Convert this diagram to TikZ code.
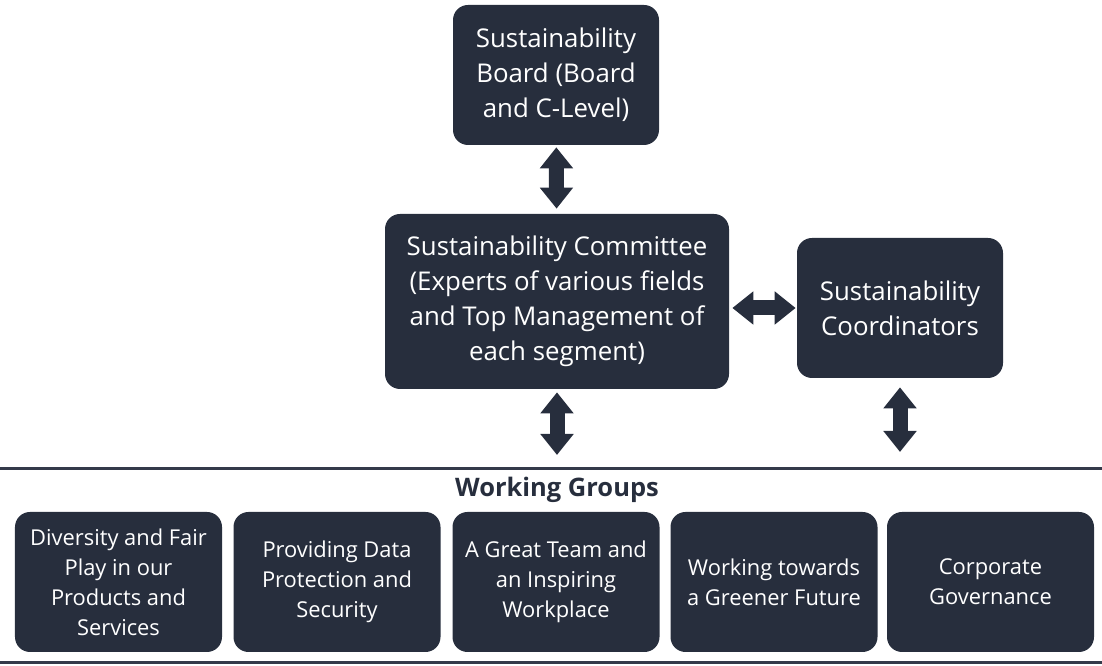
\documentclass[tikz,border=0pt]{standalone}
\usepackage{fontspec}
\setmainfont{Open Sans}
\usepackage{tikz}
\usepackage{xcolor}
\usetikzlibrary{arrows.meta}
\definecolor{boxnavy}{HTML}{272E3D}
\definecolor{rulegray}{HTML}{343A4A}
\tikzset{
	navy box/.style={fill=boxnavy, text=white, rounded corners=.3cm, align=center, inner sep=0pt},
	top box/.style={navy box, font=\fontsize{14.7}{19.9}\selectfont},
	group box/.style={navy box, minimum width=4.14cm, minimum height=2.8cm, font=\fontsize{12.45}{17}\selectfont},
	block arrow/.style={boxnavy, line width=.3cm, {Triangle[width=.64cm,length=.42cm]}-{Triangle[width=.64cm,length=.42cm]}},
	rule line/.style={rulegray, line width=.06cm}
}

\begin{document}
\begin{tikzpicture}
	\useasboundingbox (0,0) rectangle (22.04,13.32);
%
	\node[top box, minimum width=4.12cm, minimum height=2.8cm] (board) at (11.12,11.82) {Sustainability\\Board (Board\\and C-Level)};
	\node[top box, minimum width=6.88cm, minimum height=3.5cm] (comm) at (11.14,7.29) {Sustainability Committee\\(Experts of various fields\\and Top Management of\\each segment)};
	\node[top box, minimum width=4.12cm, minimum height=2.8cm] (coord) at (18.0,7.16) {Sustainability\\Coordinators};
%
	\coordinate (commend) at (11.14,4.22);
	\coordinate (coordend) at (18.0,4.28);
	\draw[block arrow, shorten <=.04cm, shorten >=.1cm] (board) -- (comm);
	\draw[block arrow, shorten <=.06cm, shorten >=.02cm] (comm.east |- coord.west) -- (coord.west);
	\draw[block arrow, shorten <=.06cm] (comm) -- (commend);
	\draw[block arrow, shorten <=.18cm] (coord) -- (coordend);
%
	\draw[rule line] (0,3.94) coordinate (ruletop) -- (22.04,3.94);
	\node[font=\fontsize{14.5}{17}\bfseries\selectfont, text=boxnavy] (wgtitle) at (11.14,3.52) {Working Groups};
%
	\node[group box] (wg1) at (2.37,1.68) {Diversity and Fair\\Play in our\\Products and\\Services};
	\node[group box] (wg2) at (6.74,1.68) {Providing Data\\Protection and\\Security};
	\node[group box] (wg3) at (11.12,1.68) {A Great Team and\\an Inspiring\\Workplace};
	\node[group box] (wg4) at (15.48,1.68) {Working towards\\a Greener Future};
	\node[group box] (wg5) at (19.81,1.68) {Corporate\\Governance};
%
	\draw[rule line] (0,0.06) -- (22.04,0.06);
\end{tikzpicture}
\end{document}
